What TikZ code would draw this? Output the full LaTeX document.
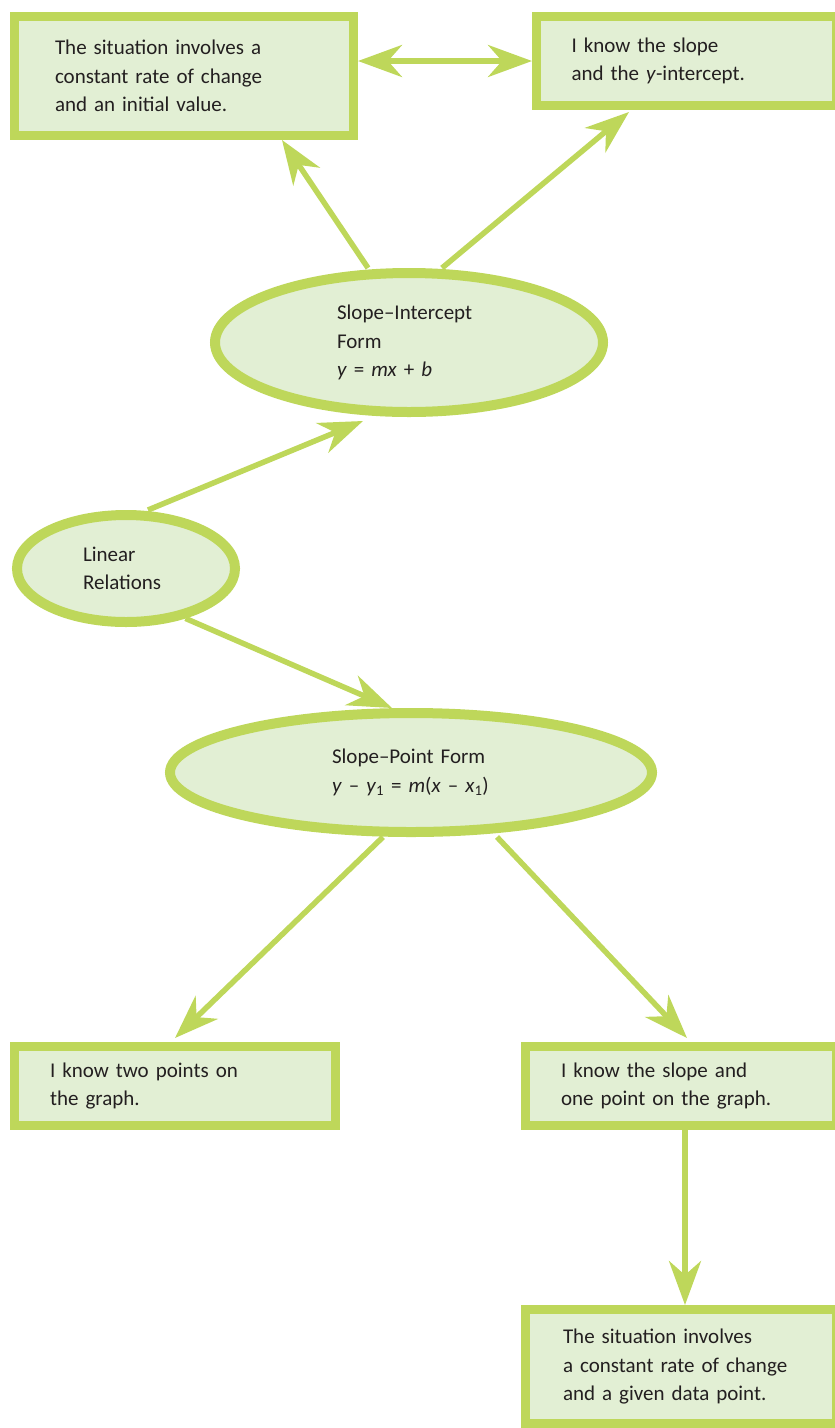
\documentclass[tikz,border=0pt]{standalone}
\usepackage{fontspec}
\setmainfont{Carlito}
\usetikzlibrary{shapes.geometric,arrows.meta,calc}
\definecolor{lime}{HTML}{BED75A}
\definecolor{limefill}{HTML}{E2EFD4}
\definecolor{ink}{HTML}{231F20}

\begin{document}
\begin{tikzpicture}[x=1pt,y=-1pt,
  box/.style={draw=lime,fill=limefill,line width=9pt,inner xsep=0pt,
              align=left,font=\fontsize{21}{28.5}\selectfont,text=ink},
  oval/.style={ellipse,draw=lime,fill=limefill,line width=10pt,inner sep=0pt,
              align=left,font=\fontsize{21}{28.5}\selectfont,text=ink},
  barb/.tip={Stealth[length=44pt,width=32pt,inset=14pt]},
  arr/.style={-barb,lime,line width=5.5pt},
  dbl/.style={barb-barb,lime,line width=5.5pt}]
\useasboundingbox (0,0) rectangle (835,1428);

% boxes
\node[box,minimum width=339pt,minimum height=119pt,text width=258pt] (b1) at (184,76)
  {The situation involves a\\constant rate of change\\and an initial value.};
\node[box,minimum width=300pt,minimum height=89pt,text width=230pt] (b2) at (686.5,61)
  {I know the slope\\and the \textit{y}-intercept.};
\node[box,minimum width=321pt,minimum height=79pt,text width=250pt] (b3) at (175,1086)
  {I know two points on\\the graph.};
\node[box,minimum width=311pt,minimum height=79pt,text width=240pt] (b4) at (681,1086)
  {I know the slope and\\one point on the graph.};
\node[box,minimum width=311pt,minimum height=114pt,text width=236pt] (b5) at (681,1366.5)
  {The situation involves\\a constant rate of change\\and a given data point.};

% ovals
\node[oval,minimum width=388pt,minimum height=139pt,text width=144pt] (si) at (409,342.5)
  {Slope–Intercept\\Form\\\textit{y} = \textit{mx} + \textit{b}};
\node[oval,minimum width=218pt,minimum height=107pt,text width=86pt] (lr) at (126,568.5)
  {Linear\\Relations};
\node[oval,minimum width=482pt,minimum height=119pt,text width=158pt] (sp) at (411,772.5)
  {Slope–Point Form\\\textit{y} – \textit{y}\textsubscript{1} = \textit{m}(\textit{x} – \textit{x}\textsubscript{1})};

% connectors
\draw[dbl] (b2.west -| b1.east) -- (b2.west);
\draw[arr] ([xshift=-41pt]si.north) -- ([xshift=-76pt]b1.south east);
\draw[arr] ([xshift=33pt]si.north) -- ([xshift=97pt,yshift=-2pt]b2.south west);
\draw[arr] ([xshift=22pt]lr.north) -- ([xshift=-46pt,yshift=-4pt]si.south);
\draw[arr] (lr.-40) -- ([xshift=-19pt]sp.north);
\draw[arr] ([xshift=-28pt]sp.south) -- ([yshift=4pt]b3.north);
\draw[arr] ([xshift=86pt]sp.south) -- ([xshift=166pt,yshift=4pt]b4.north west);
\draw[arr] ([xshift=164pt]b4.south west) -- ([xshift=164pt]b5.north west);
\end{tikzpicture}
\end{document}
